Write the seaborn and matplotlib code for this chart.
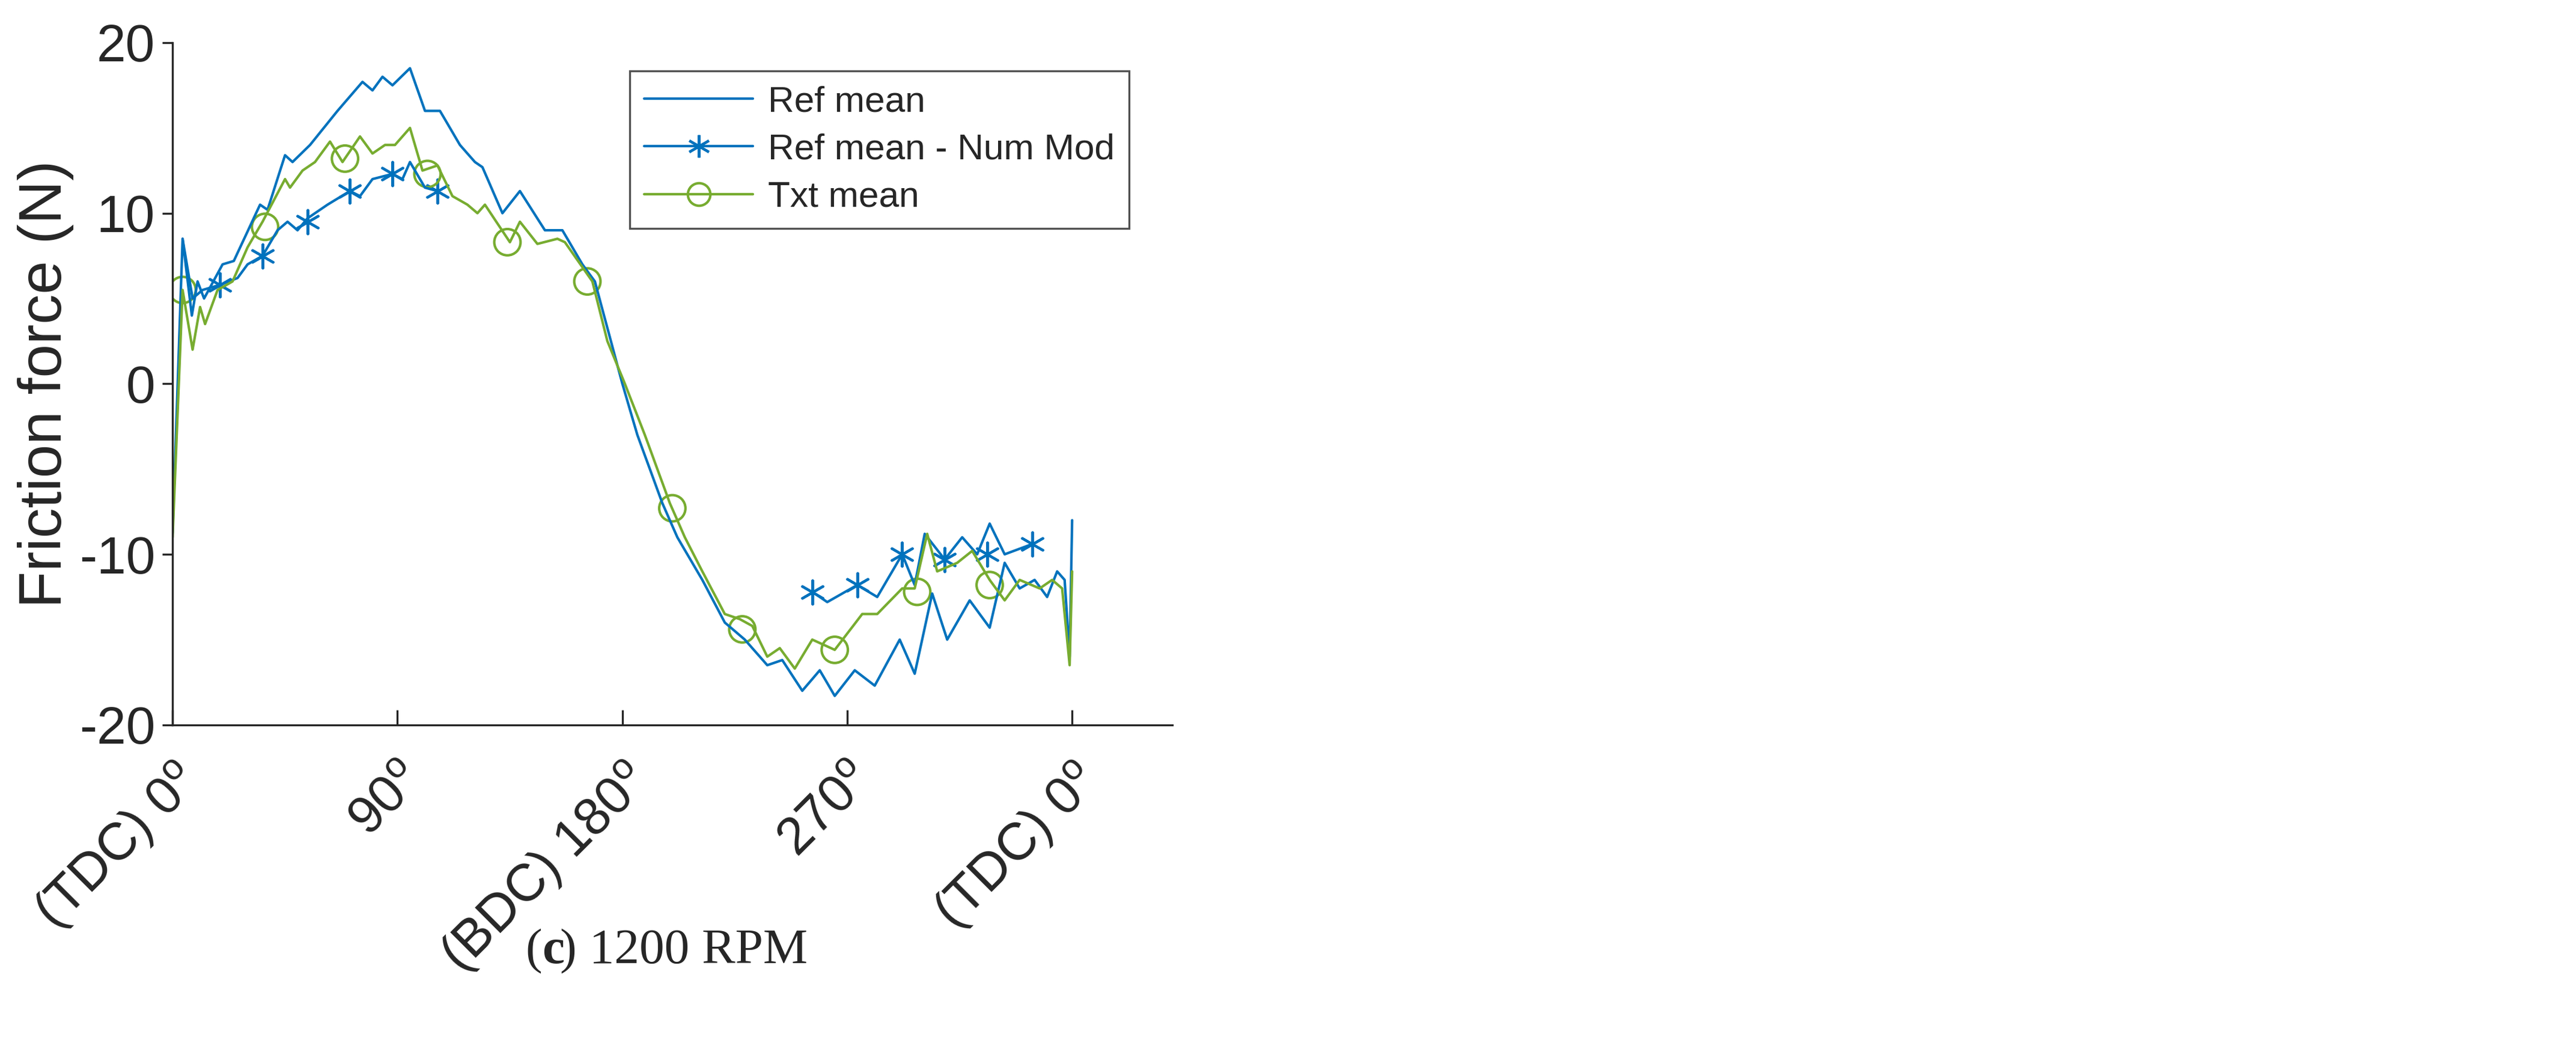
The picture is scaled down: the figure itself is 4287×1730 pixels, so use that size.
import numpy as np
import pandas as pd
import matplotlib
matplotlib.use("Agg")
import matplotlib.pyplot as plt
import seaborn as sns
from matplotlib.lines import Line2D

# ---- data ----
ref_x = [0, 4, 7.7, 10, 12.6, 20, 24.5, 35, 38, 45, 48, 55, 66, 76, 80, 84, 88, 95, 101, 107, 115, 121, 124,
         132, 139, 149, 156, 164, 169, 180, 186, 196, 202, 212, 221, 229, 238, 244, 252, 259, 265, 273, 281,
         291, 297, 304, 310, 319, 327, 333, 339, 345, 350, 354, 357, 359, 360]
ref_y = [-8.75, 8.5, 4, 6, 5, 7, 7.2, 10.5, 10.2, 13.4, 13, 14, 16, 17.7, 17.2, 18, 17.5, 18.5, 16, 16, 14, 13, 12.7,
         10, 11.3, 9, 9, 7, 6, 0, -3, -7, -9, -11.5, -14, -15, -16.5, -16.2, -18, -16.8, -18.3, -16.8, -17.7,
         -15, -17, -12.3, -15, -12.7, -14.3, -10.5, -12, -11.5, -12.5, -11, -11.5, -16, -8]

num1_x = [4, 8, 12, 19, 26, 30, 36, 42, 46, 50, 54, 62, 71, 75, 80, 88, 92, 95, 101, 106]
num1_y = [8.5, 5, 5.5, 5.8, 6.2, 7, 7.5, 9, 9.5, 9, 9.7, 10.5, 11.3, 11, 12, 12.3, 12, 13, 11.5, 11.3]
num2_x = [256, 262, 274, 282, 292, 297, 301, 309, 316, 322, 327, 333, 344]
num2_y = [-12.2, -12.8, -11.8, -12.5, -10, -11.8, -8.8, -10.3, -9, -10, -8.2, -10, -9.4]
num_mk_x = [19, 36, 54, 71, 88, 106, 256, 274, 292, 309, 326, 344]
num_mk_y = [5.8, 7.5, 9.5, 11.3, 12.3, 11.3, -12.2, -11.8, -10, -10.3, -10, -9.4]

txt_x = [0, 4, 8, 11, 13, 18, 24, 30, 36, 45, 47, 52, 57, 63, 68, 75, 80, 85, 89, 95, 100, 106, 112, 118, 122,
         125, 135, 139, 146, 154, 157, 168, 174, 181, 189, 199, 205, 212, 221, 227, 232, 238, 243, 249, 256,
         265, 276, 282, 292, 297, 302, 306, 314, 320, 327, 333, 339, 347, 352, 356, 359, 360]
txt_y = [-9, 5.5, 2, 4.5, 3.5, 5.5, 6, 8, 9.5, 12, 11.5, 12.5, 13, 14.2, 13, 14.5, 13.5, 14, 14, 15, 12.5, 12.8,
         11, 10.5, 10, 10.5, 8.3, 9.5, 8.2, 8.5, 8.3, 6, 2.5, 0, -3, -7, -9, -11, -13.5, -13.8, -14.2, -16,
         -15.5, -16.7, -15, -15.6, -13.5, -13.5, -12, -12, -8.8, -11, -10.5, -9.8, -11.5, -12.7, -11.5, -12,
         -11.5, -12, -16.5, -11]
txt_mk_x = [4, 37, 69, 102, 134, 166, 200, 228, 265, 298, 327]
txt_mk_y = [5.5, 9.2, 13.2, 12.3, 8.3, 6, -7.3, -14.4, -15.6, -12.2, -11.8]

xticks = [0, 90, 180, 270, 360]
xticklabels = ["(TDC) 0$^{o}$", "90$^{o}$", "(BDC) 180$^{o}$", "270$^{o}$", "(TDC) 0$^{o}$"]
yticks = [-20, -10, 0, 10, 20]
legend_labels = ["Ref mean", "Ref mean - Num Mod", "Txt mean"]

BLUE = "#0072BD"
GREEN = "#77AC30"

sns.set_style("white")
plt.rcParams["font.family"] = ["Liberation Sans", "DejaVu Sans"]
plt.rcParams["mathtext.fontset"] = "custom"
plt.rcParams["mathtext.rm"] = "Liberation Sans"
plt.rcParams["mathtext.it"] = "Liberation Sans"
plt.rcParams["axes.unicode_minus"] = False

fig = plt.figure(figsize=(4287 / 300, 1730 / 300), dpi=300)
ax = fig.add_axes([0.067, 0.303, 0.388, 0.656])

lw = 1.0
sns.lineplot(x=ref_x, y=ref_y, ax=ax, color=BLUE, lw=lw, sort=False, estimator=None)
sns.lineplot(x=num1_x, y=num1_y, ax=ax, color=BLUE, lw=lw, sort=False, estimator=None)
sns.lineplot(x=num2_x, y=num2_y, ax=ax, color=BLUE, lw=lw, sort=False, estimator=None)
sns.lineplot(x=txt_x, y=txt_y, ax=ax, color=GREEN, lw=lw, sort=False, estimator=None)
sns.scatterplot(x=num_mk_x, y=num_mk_y, ax=ax, marker=(6, 2, 0), s=90, color=BLUE, linewidth=1.0)
sns.scatterplot(x=txt_mk_x, y=txt_mk_y, ax=ax, marker="o", s=110, facecolor="none", edgecolor=GREEN, linewidth=1.0)

ax.set_xlim(0, 400)
ax.set_ylim(-20, 20)
ax.set_xticks(xticks)
ax.set_xticklabels(xticklabels, rotation=45, ha="right", rotation_mode="anchor", fontsize=21)
ax.set_yticks(yticks)
ax.tick_params(axis="y", labelsize=21, direction="out", length=4, left=True, width=0.8, pad=3)
ax.tick_params(axis="x", direction="in", length=6, bottom=True, width=0.8, pad=12)
ax.set_ylabel("Friction force (N)", fontsize=24, labelpad=2)
for s in ["top", "right"]:
    ax.spines[s].set_visible(False)
for s in ["left", "bottom"]:
    ax.spines[s].set_color("#262626")
    ax.spines[s].set_linewidth(0.8)

handles = [Line2D([], [], color=BLUE, lw=lw),
           Line2D([], [], color=BLUE, lw=lw, marker=(6, 2, 0), markersize=9, markeredgewidth=1.0),
           Line2D([], [], color=GREEN, lw=lw, marker="o", markersize=9, markerfacecolor="none", markeredgewidth=1.0)]
leg = ax.legend(handles, legend_labels, loc="upper right", bbox_to_anchor=(0.975, 0.985), fontsize=14.5,
                frameon=True, fancybox=False, edgecolor="#262626", handlelength=3.0, borderpad=0.4,
                labelspacing=0.4, handletextpad=0.4)
leg.get_frame().set_linewidth(0.8)

fig.text(0.2105, 0.085, "(", fontsize=20, family="Liberation Serif", ha="right", va="center")
fig.text(0.2105, 0.085, "c", fontsize=20, family="Liberation Serif", weight="bold", ha="left", va="center")
fig.text(0.2175, 0.085, ") 1200 RPM", fontsize=20, family="Liberation Serif", ha="left", va="center")

fig.savefig("out.png", dpi=300, facecolor="white")
